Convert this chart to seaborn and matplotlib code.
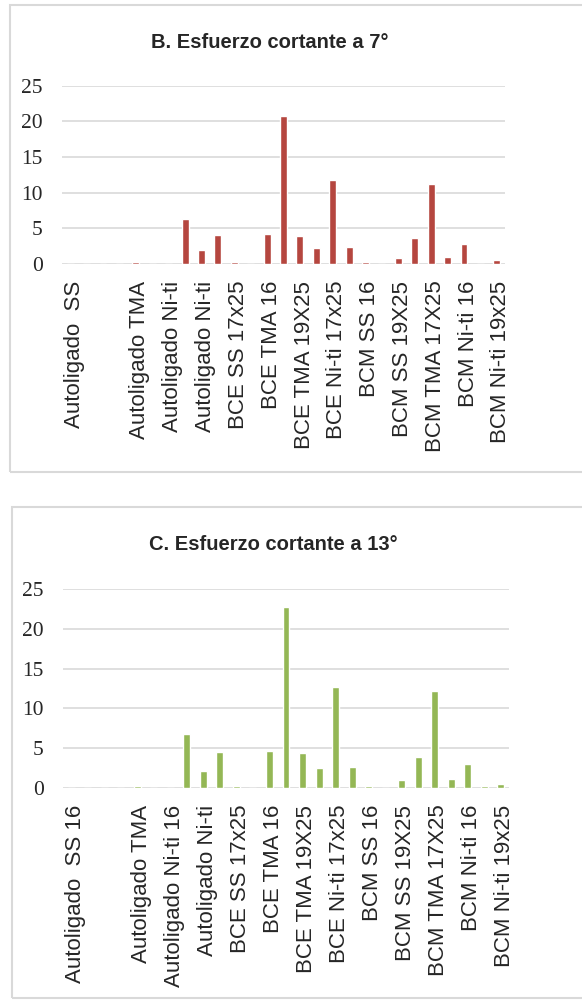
import matplotlib
matplotlib.use("Agg")
import matplotlib.pyplot as plt
import numpy as np
import pandas as pd
import seaborn as sns
from matplotlib.patches import Rectangle

# 27 category slots; Excel only prints every second label
labels_b = ["Autoligado  SS", "", "Autoligado TMA", "Autoligado Ni-ti", "Autoligado Ni-ti",
            "BCE SS 17x25", "BCE TMA 16", "BCE TMA 19X25", "BCE Ni-ti 17x25", "BCM SS 16",
            "BCM SS 19X25", "BCM TMA 17X25", "BCM Ni-ti 16", "BCM Ni-ti 19x25"]
labels_c = ["Autoligado  SS 16", "", "Autoligado TMA", "Autoligado Ni-ti 16", "Autoligado Ni-ti",
            "BCE SS 17x25", "BCE TMA 16", "BCE TMA 19X25", "BCE Ni-ti 17x25", "BCM SS 16",
            "BCM SS 19X25", "BCM TMA 17X25", "BCM Ni-ti 16", "BCM Ni-ti 19x25"]

values_b = [0, 0, 0, 0, 0.3, 0, 0, 6.25, 1.95, 4.1, 0.3, 0, 4.25, 20.75, 3.95, 2.3,
            11.75, 2.45, 0.3, 0, 0.9, 3.7, 11.15, 1.05, 2.75, 0, 0.6]
values_c = [0, 0, 0, 0, 0.25, 0, 0, 6.8, 2.15, 4.5, 0.25, 0, 4.65, 22.7, 4.35, 2.45,
            12.7, 2.6, 0.25, 0, 0.95, 3.95, 12.15, 1.1, 3.0, 0.25, 0.5]

yticks = [0, 5, 10, 15, 20, 25]

sns.set_style("white")
W, H = 582, 1000
fig = plt.figure(figsize=(W / 100, H / 100), dpi=100)

# panel frames
for (x0, y0, x1, y1) in [(10, 5, 600, 472), (12, 507, 600, 998)]:
    fig.patches.append(Rectangle((x0 / W, 1 - y1 / H), (x1 - x0) / W, (y1 - y0) / H,
                                 transform=fig.transFigure, fill=False,
                                 edgecolor="#d9d9d9", linewidth=1.5))


def panel(rect, values, labels, color, title, title_xy):
    ax = fig.add_axes(rect)
    df = pd.DataFrame({"pos": np.arange(len(values)), "val": values})
    sns.barplot(data=df, x="pos", y="val", color=color, width=0.42,
                saturation=1, ax=ax, zorder=3)
    ax.set_xlim(-0.5, len(values) - 0.5)
    ax.set_ylim(0, 25)
    ax.set_yticks(yticks)
    ax.set_yticklabels([str(t) for t in yticks], family="Liberation Serif", fontsize=15.5)
    ticklabels = []
    for i in range(len(values)):
        ticklabels.append(labels[i // 2] if i % 2 == 0 else "")
    # labels sit a touch right of the bar centres in the original
    ax.set_xticks(np.arange(len(values)) + 0.25)
    ax.set_xticklabels(ticklabels, rotation=90, family="Liberation Sans", fontsize=16)
    ax.tick_params(axis="both", length=0)
    ax.tick_params(axis="y", pad=14)
    ax.tick_params(axis="x", pad=12)
    ax.set_xlabel("")
    ax.set_ylabel("")
    for s in ax.spines.values():
        s.set_visible(False)
    ax.yaxis.grid(True, color="#d9d9d9", linewidth=1.2, zorder=0)
    ax.set_axisbelow(True)
    fig.text(title_xy[0] / W, 1 - title_xy[1] / H, title, ha="center", va="center",
             family="Liberation Sans", fontweight="bold", fontsize=14.5)
    return ax


panel([62 / W, 1 - 264 / H, 443 / W, 178.3 / H], values_b, labels_b, "#b5463f",
      "B. Esfuerzo cortante a 7°", (270, 42))
panel([63 / W, 1 - 788 / H, 446 / W, 199 / H], values_c, labels_c, "#94b755",
      "C. Esfuerzo cortante a 13°", (273, 545))

fig.savefig("out.png", dpi=100)
